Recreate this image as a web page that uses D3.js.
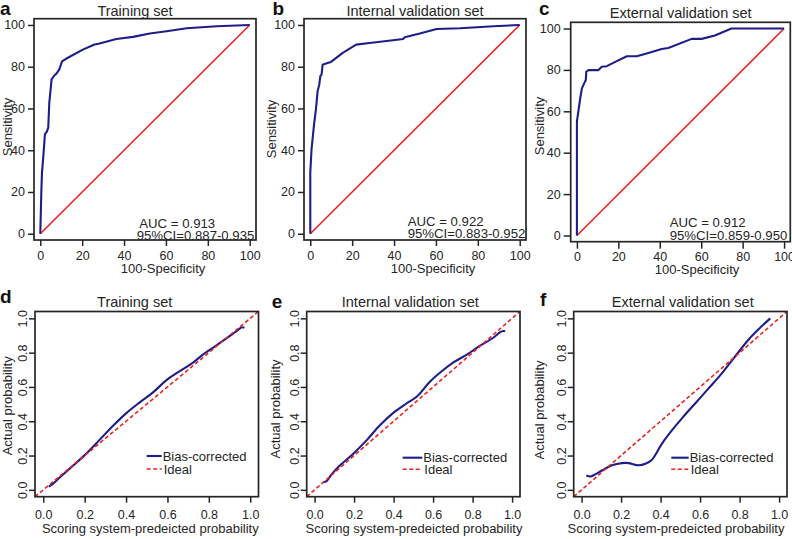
<!DOCTYPE html>
<html><head><meta charset="utf-8">
<script src="https://cdn.jsdelivr.net/npm/d3@7"></script>
<style>
body{margin:0;background:#fff;}
svg{display:block;font-family:"Liberation Sans",Arial,Helvetica,sans-serif;}
</style>
</head><body>
<svg id="chart" width="792" height="539"></svg>
<script>
// ---------------- data ----------------
const rocTicks = [0, 20, 40, 60, 80, 100];
const calTicks = [0, 0.2, 0.4, 0.6, 0.8, 1.0];
const panelLetters = ["a", "b", "c", "d", "e", "f"];
const setNames = ["Training set", "Internal validation set", "External validation set"];
const aucValues = ["0.913", "0.922", "0.912"];
const ciValues = ["0.887-0.935", "0.883-0.952", "0.859-0.950"];
const legendLabels = ["Bias-corrected", "Ideal"];
const rocXLabel = "100-Specificity";
const rocYLabel = "Sensitivity";
const calXLabel = "Scoring system-predeicted probability";
const calYLabel = "Actual probability";

// ROC curves (100-specificity, sensitivity)
const trainRocX = [0, 0.5, 0.8, 1.6, 2.2, 3.2, 3.8, 4.3, 5.4, 6.7, 7.8, 9.1, 10.4, 12.3, 20.3, 25.9, 28.3, 36.3, 44.3, 52.3, 60.3, 69.9, 84.3, 100];
const trainRocY = [0, 20, 29, 39, 47.6, 49, 50.8, 62.7, 73.9, 75.8, 76.8, 78.7, 82.6, 83.8, 88.2, 90.6, 91.1, 93.3, 94.3, 95.9, 97, 98.4, 99.4, 100];
const internalRocX = [0, 0, 0.6, 1.4, 1.9, 2.7, 3.5, 4.3, 4.8, 5.4, 5.9, 7.5, 9.9, 15.5, 21.9, 28.3, 39.5, 44.3, 45.1, 52.3, 60.3, 71.5, 87.5, 100];
const internalRocY = [0, 29.3, 40.4, 48.4, 53.2, 59.6, 68.3, 71.5, 75.5, 76.3, 81, 81.5, 82.3, 86.6, 90.6, 91.4, 92.7, 93.3, 94.1, 95.9, 98.1, 98.4, 99.4, 100];
const externalRocX = [0, 0, 0.8, 1.6, 2.4, 3.5, 4.3, 4.5, 5.6, 10.4, 12, 14.4, 18.5, 24.1, 28.9, 34.5, 40.9, 44.1, 55.4, 60.2, 66.6, 74.6, 100];
const externalRocY = [0, 55.1, 60.7, 66.3, 71.1, 73.5, 75.1, 79.1, 79.9, 79.9, 81.5, 81.8, 83.9, 86.6, 86.6, 88.2, 90.1, 90.6, 95, 95, 96.6, 100, 100];
const chanceLine = [0, 100];

// Calibration curves (predicted, actual)
const trainCalX = [0.027, 0.046, 0.078, 0.127, 0.199, 0.271, 0.336, 0.40, 0.465, 0.529, 0.594, 0.658, 0.722, 0.771, 0.835, 0.90, 0.94, 0.96, 0.972];
const trainCalY = [0.019, 0.035, 0.07, 0.123, 0.201, 0.29, 0.372, 0.446, 0.509, 0.567, 0.638, 0.691, 0.74, 0.789, 0.841, 0.896, 0.932, 0.948, 0.945];
const internalCalX = [0.044, 0.061, 0.086, 0.129, 0.196, 0.264, 0.332, 0.40, 0.467, 0.518, 0.585, 0.653, 0.703, 0.771, 0.838, 0.905, 0.939, 0.955, 0.965];
const internalCalY = [0.045, 0.051, 0.09, 0.143, 0.211, 0.29, 0.378, 0.45, 0.505, 0.544, 0.632, 0.70, 0.743, 0.789, 0.841, 0.887, 0.919, 0.926, 0.925];
const externalCalX = [0.024, 0.044, 0.069, 0.103, 0.154, 0.205, 0.238, 0.289, 0.323, 0.356, 0.407, 0.458, 0.508, 0.576, 0.644, 0.711, 0.778, 0.846, 0.913, 0.955];
const externalCalY = [0.084, 0.078, 0.09, 0.113, 0.143, 0.156, 0.156, 0.143, 0.152, 0.176, 0.27, 0.348, 0.417, 0.505, 0.593, 0.681, 0.779, 0.877, 0.955, 1.0];
const idealLine = [-0.04, 1.04];

// ---------------- drawing ----------------
const svg = d3.select("#chart");
const ink = "#262626", navy = "#1e1e88", red = "#ec2222";
const zip = (a, b) => a.map((v, i) => [v, b[i]]);

const rocSeries = [zip(trainRocX, trainRocY), zip(internalRocX, internalRocY), zip(externalRocX, externalRocY)];
const calSeries = [zip(trainCalX, trainCalY), zip(internalCalX, internalCalY), zip(externalCalX, externalCalY)];

const rocLayout = [
  {x0: 34, x1: 256, y0: 18.7, y1: 240, letter: [0, 14.5], title: [135, 16], xlab: [163, 272.5], ylab: [7, 127], auc: [139.3, 227.5], ci: [136.7, 239.5], tlY: 19.5, tick: 6},
  {x0: 304, x1: 526, y0: 18.7, y1: 240, letter: [272.5, 14.5], title: [415, 16], xlab: [433, 272.5], ylab: [271.5, 129], auc: [407.7, 225.5], ci: [407.7, 238], tlY: 19.5, tick: 6},
  {x0: 570.7, x1: 790.3, y0: 22.3, y1: 241.7, letter: [539, 14.5], title: [680.7, 18.3], xlab: [697, 273.5], ylab: [539, 126], auc: [669.7, 226.5], ci: [669.7, 239.5], tlY: 19, tick: 7}
];
const calLayout = [
  {x0: 35, x1: 258.5, y0: 311.5, y1: 496.7, letter: [0, 303.3], title: [134.7, 306.7], xlab: [150.3, 533], ylab: [7, 405.8], leg: [146.7, 161.7, 456, 469]},
  {x0: 306.7, x1: 520, y0: 311.5, y1: 496.7, letter: [271.7, 308.3], title: [410.3, 307.3], xlab: [414, 533], ylab: [275, 409], leg: [402.7, 422.3, 457.7, 469.3]},
  {x0: 573.7, x1: 787, y0: 311.5, y1: 496.7, letter: [540, 306], title: [682.8, 307.3], xlab: [676, 533], ylab: [539.5, 410], leg: [671.3, 688.7, 457.7, 469.3]}
];

function txt(x, y, s, size, opts = {}) {
  const t = svg.append("text").attr("x", x).attr("y", y).text(s)
    .attr("font-size", size).attr("fill", opts.fill || ink)
    .attr("text-anchor", opts.anchor || "start");
  if (opts.weight) t.attr("font-weight", opts.weight);
  if (opts.rotate) t.attr("transform", `rotate(-90,${x},${y})`).attr("dy", "0.35em");
  return t;
}
function frame(L) {
  svg.append("rect").attr("x", L.x0).attr("y", L.y0)
    .attr("width", L.x1 - L.x0).attr("height", L.y1 - L.y0)
    .attr("fill", "none").attr("stroke", ink).attr("stroke-width", 1.7);
}
function styleAxis(g) {
  g.select(".domain").remove();
  g.selectAll(".tick line").attr("stroke", ink).attr("stroke-width", 1.5);
  g.selectAll(".tick text").attr("fill", ink).attr("font-size", 12.5)
    .attr("font-family", "Liberation Sans, Arial, sans-serif");
}

// ROC panels
rocLayout.forEach((L, i) => {
  const x = d3.scaleLinear().domain([-3, 103]).range([L.x0, L.x1]);
  const y = d3.scaleLinear().domain([-3, 103]).range([L.y1, L.y0]);
  const line = d3.line().x(d => x(d[0])).y(d => y(d[1]));

  svg.append("path").datum(zip(chanceLine, chanceLine)).attr("d", line)
    .attr("fill", "none").attr("stroke", red).attr("stroke-width", 1.6);
  svg.append("path").datum(rocSeries[i]).attr("d", line)
    .attr("fill", "none").attr("stroke", navy).attr("stroke-width", 2.1)
    .attr("stroke-linejoin", "round");
  frame(L);

  const gx = svg.append("g").attr("transform", `translate(0,${L.y1})`)
    .call(d3.axisBottom(x).tickValues(rocTicks).tickSize(L.tick).tickSizeOuter(0));
  styleAxis(gx);
  gx.selectAll(".tick text").attr("y", L.tlY).attr("dy", null);
  const gy = svg.append("g").attr("transform", `translate(${L.x0},0)`)
    .call(d3.axisLeft(y).tickValues(rocTicks).tickSize(L.tick).tickSizeOuter(0).tickPadding(3));
  styleAxis(gy);

  txt(L.letter[0], L.letter[1], panelLetters[i], 19, {weight: "bold", fill: "#111"});
  txt(L.title[0], L.title[1], setNames[i], 14.5, {anchor: "middle"});
  txt(L.xlab[0], L.xlab[1], rocXLabel, 13, {anchor: "middle"});
  txt(L.ylab[0], L.ylab[1], rocYLabel, 13, {anchor: "middle", rotate: true});
  txt(L.auc[0], L.auc[1], "AUC = " + aucValues[i], 13.2);
  txt(L.ci[0], L.ci[1], "95%CI=" + ciValues[i], 13.2);
});

// Calibration panels
calLayout.forEach((L, i) => {
  const x = d3.scaleLinear().domain([-0.04, 1.04]).range([L.x0, L.x1]);
  const y = d3.scaleLinear().domain([-0.04, 1.04]).range([L.y1, L.y0]);
  const line = d3.line().x(d => x(d[0])).y(d => y(d[1]));
  const smooth = d3.line().x(d => x(d[0])).y(d => y(d[1])).curve(d3.curveCatmullRom);

  svg.append("path").datum(calSeries[i]).attr("d", smooth)
    .attr("fill", "none").attr("stroke", navy).attr("stroke-width", 2.1)
    .attr("stroke-linejoin", "round");
  svg.append("path").datum(zip(idealLine, idealLine)).attr("d", line)
    .attr("fill", "none").attr("stroke", red).attr("stroke-width", 1.6)
    .attr("stroke-dasharray", "4,2.5");
  frame(L);

  const gx = svg.append("g").attr("transform", `translate(0,${L.y1})`)
    .call(d3.axisBottom(x).tickValues(calTicks).tickFormat(d3.format(".1f")).tickSize(6).tickSizeOuter(0));
  styleAxis(gx);
  gx.selectAll(".tick text").attr("y", 22.5).attr("dy", null);
  const gy = svg.append("g").attr("transform", `translate(${L.x0},0)`)
    .call(d3.axisLeft(y).tickValues(calTicks).tickFormat(d3.format(".1f")).tickSize(6).tickSizeOuter(0));
  styleAxis(gy);
  gy.selectAll(".tick text").attr("x", 0).attr("y", 0).attr("dy", "0.35em")
    .attr("text-anchor", "middle").attr("transform", "translate(-12.5,0) rotate(-90)");

  txt(L.letter[0], L.letter[1], panelLetters[3 + i], 19, {weight: "bold", fill: "#111"});
  txt(L.title[0], L.title[1], setNames[i], 14.5, {anchor: "middle"});
  txt(L.xlab[0], L.xlab[1], calXLabel, 13, {anchor: "middle"});
  txt(L.ylab[0], L.ylab[1], calYLabel, 13, {anchor: "middle", rotate: true});

  // legend
  const [lx0, lx1, ly0, ly1] = L.leg;
  svg.append("line").attr("x1", lx0).attr("x2", lx1).attr("y1", ly0).attr("y2", ly0)
    .attr("stroke", navy).attr("stroke-width", 2.1);
  svg.append("line").attr("x1", lx0).attr("x2", lx1).attr("y1", ly1).attr("y2", ly1)
    .attr("stroke", red).attr("stroke-width", 1.6).attr("stroke-dasharray", "4,2.5");
  txt(lx1 + 1, ly0, legendLabels[0], 13).attr("dy", "0.35em");
  txt(lx1 + 2, ly1, legendLabels[1], 13).attr("dy", "0.35em");
});
</script>
</body></html>
